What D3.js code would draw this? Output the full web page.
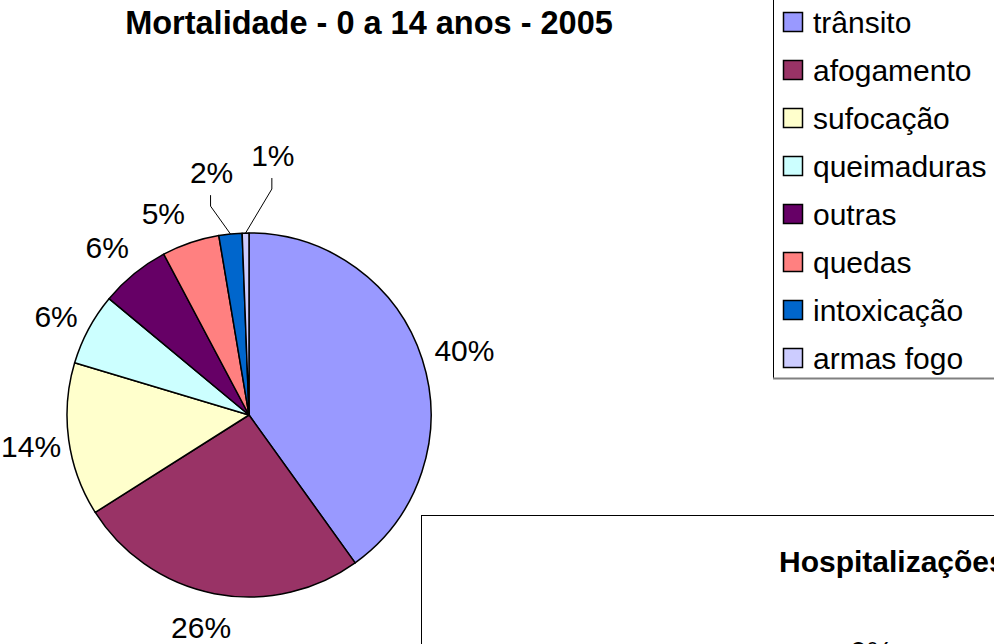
<!DOCTYPE html>
<html>
<head>
<meta charset="utf-8">
<script src="https://cdn.jsdelivr.net/npm/d3@7"></script>
<style>
  html, body { margin: 0; padding: 0; background: #fff; }
  svg { display: block; font-family: Arial, "Liberation Sans", sans-serif; }
</style>
</head>
<body>
<svg id="chart" width="994" height="644"></svg>
<script>
// ---- data ----
const title = "Mortalidade - 0 a 14 anos - 2005";
const categories = ["trânsito", "afogamento", "sufocação", "queimaduras", "outras", "quedas", "intoxicação", "armas fogo"];
const shares = [40.05, 25.9, 13.6, 6.4, 6.2, 5.1, 2.05, 0.6];
const labels = ["40%", "26%", "14%", "6%", "6%", "5%", "2%", "1%"];
const colors = ["#9999FF", "#993366", "#FFFFCC", "#CCFFFF", "#660066", "#FF8080", "#0066CC", "#CCCCFF"];
const secondTitle = "Hospitalizações";
const secondLabel = "0%";

// ---- layout (not data) ----
const cx = 249, cy = 415, R = 182, labelDist = 220;
const labelNudge = [[6, 3], [-6, -4], [0, 1], [1, 5], [-3, 3], [-15, 7], [-15, -24], [28, -40]];
const useLeader = [false, false, false, false, false, false, true, true];

const svg = d3.select("#chart");

// title
svg.append("text")
  .attr("x", 369).attr("y", 34)
  .attr("text-anchor", "middle")
  .attr("font-weight", "bold")
  .attr("font-size", 32.5)
  .text(title);

// pie
const pie = d3.pie().sort(null).value(d => d).startAngle(0).endAngle(2 * Math.PI);
const arcs = pie(shares);
const arc = d3.arc().innerRadius(0).outerRadius(R);
const g = svg.append("g").attr("transform", `translate(${cx},${cy})`);

g.selectAll("path.slice")
  .data(arcs)
  .join("path")
  .attr("class", "slice")
  .attr("d", arc)
  .attr("fill", (d, i) => colors[i])
  .attr("stroke", "#000")
  .attr("stroke-width", 1.5)
  .attr("stroke-linejoin", "round");

// labels
arcs.forEach((d, i) => {
  const mid = (d.startAngle + d.endAngle) / 2;
  const dx = Math.sin(mid), dy = -Math.cos(mid);
  const lx = dx * labelDist + labelNudge[i][0];
  const ly = dy * labelDist + labelNudge[i][1];
  g.append("text")
    .attr("x", lx).attr("y", ly)
    .attr("dy", "0.36em")
    .attr("text-anchor", "middle")
    .attr("font-size", 30)
    .text(labels[i]);
  if (useLeader[i]) {
    const ex = dx * R, ey = dy * R;
    const sx = lx - 1, sy = ly + 23;
    g.append("path")
      .attr("d", `M${sx},${sy} L${sx},${sy + 11} L${ex},${ey}`)
      .attr("fill", "none")
      .attr("stroke", "#000")
      .attr("stroke-width", 1);
  }
});

// legend
const lg = svg.append("g");
lg.append("line").attr("x1", 773.5).attr("y1", -2).attr("x2", 773.5).attr("y2", 378)
  .attr("stroke", "#000").attr("stroke-width", 1);
lg.append("line").attr("x1", 773).attr("y1", 378.5).attr("x2", 1000).attr("y2", 378.5)
  .attr("stroke", "#808080").attr("stroke-width", 2);
const legendY = d3.scalePoint().domain(categories).range([22, 358]);
const items = lg.selectAll("g.item").data(categories).join("g").attr("class", "item")
  .attr("transform", d => `translate(0,${legendY(d)})`);
items.append("rect")
  .attr("x", 783.5).attr("y", -9.5).attr("width", 19).attr("height", 19)
  .attr("fill", (d, i) => colors[i])
  .attr("stroke", "#000").attr("stroke-width", 1.5);
items.append("text")
  .attr("x", 813).attr("y", 0).attr("dy", "0.36em")
  .attr("font-size", 30)
  .text(d => d);

// second chart box (partially visible)
const g2 = svg.append("g");
g2.append("rect").attr("x", 421.5).attr("y", 515.5).attr("width", 700).attr("height", 300)
  .attr("fill", "#fff").attr("stroke", "#000").attr("stroke-width", 1);
g2.append("text").attr("x", 779).attr("y", 572)
  .attr("font-weight", "bold").attr("font-size", 30)
  .text(secondTitle);
g2.append("text").attr("x", 850).attr("y", 662)
  .attr("font-size", 30)
  .text(secondLabel);
</script>
</body>
</html>
